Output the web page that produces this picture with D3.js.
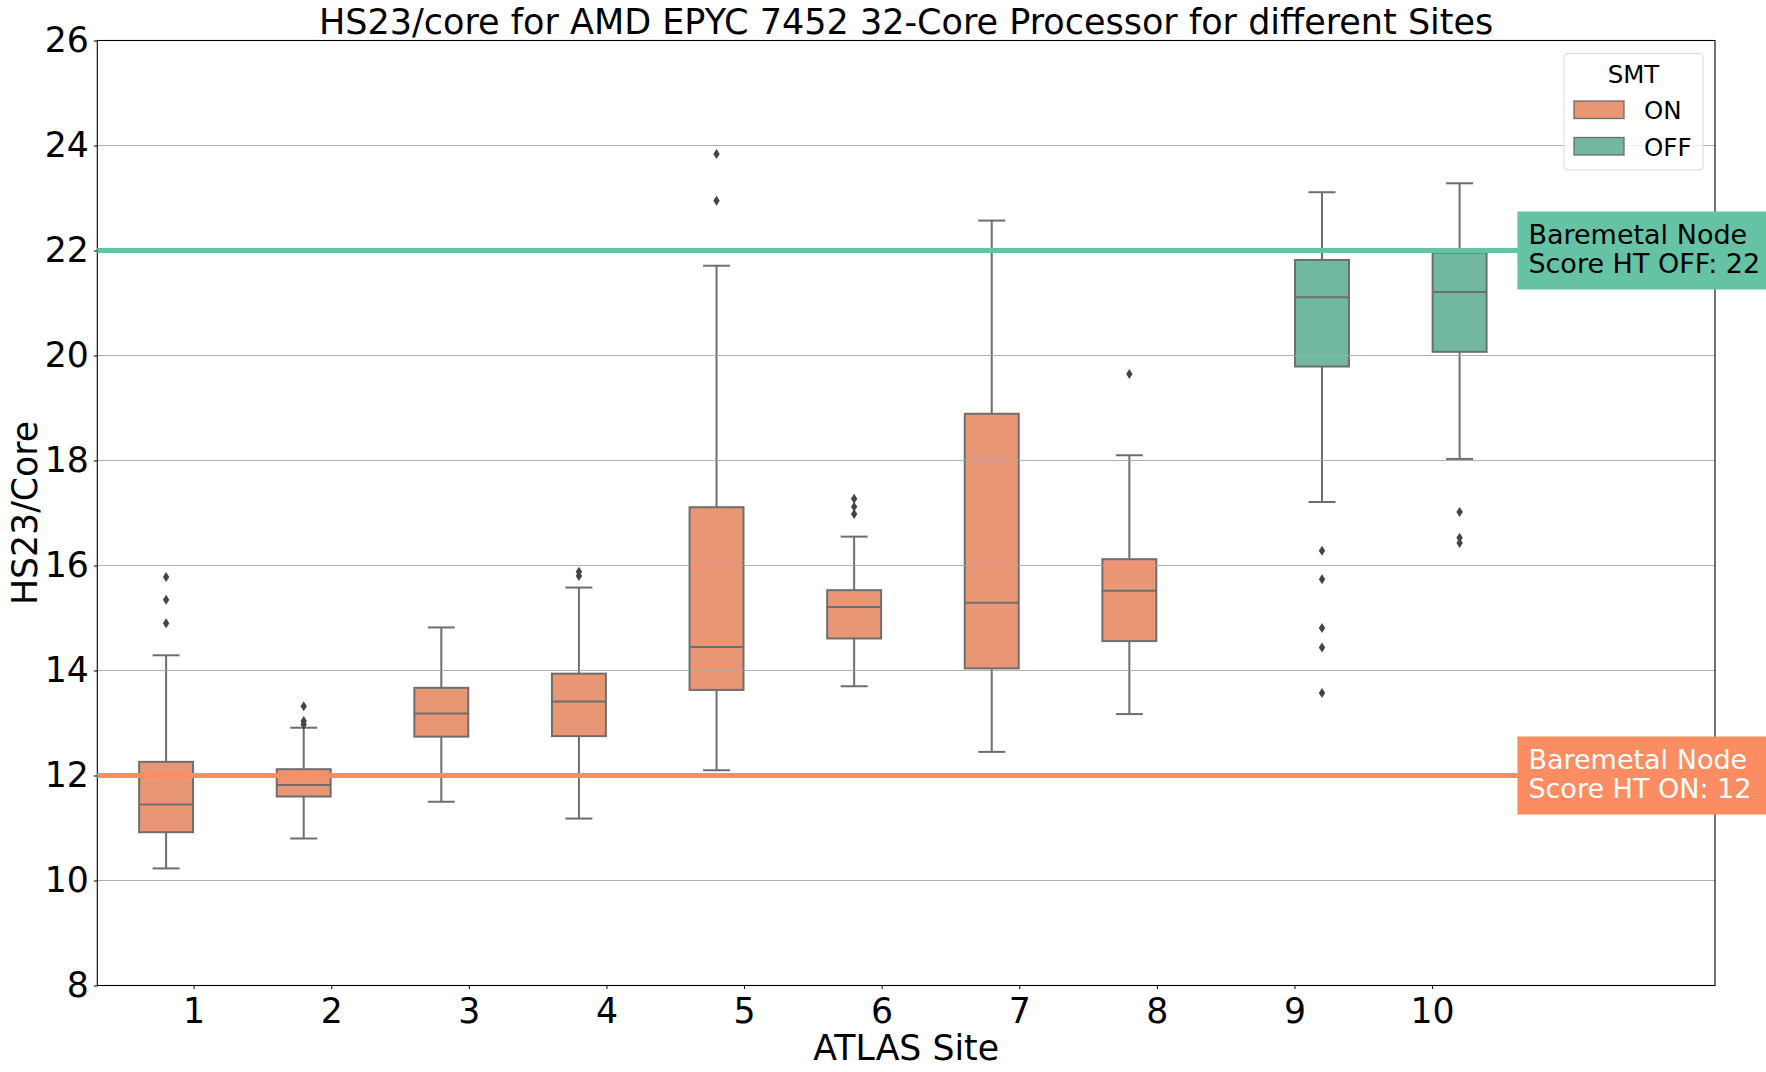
<!DOCTYPE html>
<html>
<head>
<meta charset="utf-8">
<script src="https://cdn.jsdelivr.net/npm/d3@7"></script>
<style>
  html, body { margin: 0; padding: 0; background: #fff; }
  svg { display: block; font-family: "DejaVu Sans", sans-serif; }
</style>
</head>
<body>
<svg id="chart" width="1766" height="1072"></svg>
<script>
// ---------------- data ----------------
const sites = ["1", "2", "3", "4", "5", "6", "7", "8", "9", "10"];
const smt = ["ON", "ON", "ON", "ON", "ON", "ON", "ON", "ON", "OFF", "OFF"];
const whiskerLow  = [10.23, 10.80, 11.50, 11.18, 12.10, 13.70, 12.45, 13.17, 17.21, 18.03];
const quartile1   = [10.92, 11.60, 12.74, 12.75, 13.63, 14.61, 14.04, 14.56, 19.79, 20.07];
const medians     = [11.45, 11.82, 13.18, 13.41, 14.45, 15.21, 15.29, 15.52, 21.11, 21.21];
const quartile3   = [12.26, 12.12, 13.67, 13.94, 17.11, 15.53, 18.89, 16.12, 21.82, 21.96];
const whiskerHigh = [14.29, 12.91, 14.82, 15.58, 21.71, 16.55, 22.57, 18.10, 23.11, 23.28];
const outliers = [
  [14.90, 15.35, 15.78],
  [12.97, 13.04, 13.32],
  [],
  [15.80, 15.88],
  [22.95, 23.84],
  [16.98, 17.12, 17.27],
  [],
  [19.65],
  [13.57, 14.44, 14.81, 15.74, 16.28],
  [16.43, 16.53, 17.02]
];
const yTicks = [8, 10, 12, 14, 16, 18, 20, 22, 24, 26];
const smtLevels = ["ON", "OFF"];
const baremetalScores = [12, 22];
const baremetalLabels = [["Baremetal Node", "Score HT ON: 12"], ["Baremetal Node", "Score HT OFF: 22"]];

(function () {
// ---------------- styles ----------------
const boxFill = { ON: "#e99675", OFF: "#72b7a1" };
const refColor = { ON: "#fc8d62", OFF: "#66c2a5" };
const refText = { ON: "#ffffff", OFF: "#000000" };
const lineGray = "#6e6e6e";
const bigFont = 34.7;

const svg = d3.select("#chart");
const pl = 97.3, pr = 1715, pt = 40.5, pb = 985.5;

const x = d3.scaleLinear().domain([-0.70, 11.056]).range([pl, pr]);
const y = d3.scaleLinear().domain([8, 26]).range([pb, pt]);
const unit = x(1) - x(0);
const hueOffset = { ON: -0.2, OFF: 0.2 };
const boxW = 0.392 * unit;

// gridlines
svg.append("g").selectAll("line").data(yTicks).join("line")
  .attr("x1", pl).attr("x2", pr)
  .attr("y1", d => y(d)).attr("y2", d => y(d))
  .attr("stroke", "#b0b0b0").attr("stroke-width", 1);

// boxes
const g = svg.append("g");
sites.forEach((s, i) => {
  const cx = x(i + hueOffset[smt[i]]);
  const bg = g.append("g");
  bg.append("line").attr("x1", cx).attr("x2", cx)
    .attr("y1", y(whiskerHigh[i])).attr("y2", y(quartile3[i]))
    .attr("stroke", lineGray).attr("stroke-width", 2);
  bg.append("line").attr("x1", cx).attr("x2", cx)
    .attr("y1", y(quartile1[i])).attr("y2", y(whiskerLow[i]))
    .attr("stroke", lineGray).attr("stroke-width", 2);
  [whiskerHigh[i], whiskerLow[i]].forEach(v => {
    bg.append("line").attr("x1", cx - boxW / 4).attr("x2", cx + boxW / 4)
      .attr("y1", y(v)).attr("y2", y(v))
      .attr("stroke", lineGray).attr("stroke-width", 2);
  });
  bg.append("rect")
    .attr("x", cx - boxW / 2).attr("width", boxW)
    .attr("y", y(quartile3[i])).attr("height", y(quartile1[i]) - y(quartile3[i]))
    .attr("fill", boxFill[smt[i]]).attr("stroke", lineGray).attr("stroke-width", 2);
  bg.append("line").attr("x1", cx - boxW / 2).attr("x2", cx + boxW / 2)
    .attr("y1", y(medians[i])).attr("y2", y(medians[i]))
    .attr("stroke", lineGray).attr("stroke-width", 2);
  bg.selectAll("path.flier").data(outliers[i]).join("path")
    .attr("class", "flier")
    .attr("d", v => `M${cx},${y(v) - 5}L${cx + 3.2},${y(v)}L${cx},${y(v) + 5}L${cx - 3.2},${y(v)}Z`)
    .attr("fill", "#454545");
});

// gridlines over boxes (faint)
svg.append("g").selectAll("line").data(yTicks).join("line")
  .attr("x1", pl).attr("x2", pr)
  .attr("y1", d => y(d)).attr("y2", d => y(d))
  .attr("stroke", "#b0b0b0").attr("stroke-width", 1).attr("opacity", 0.6);

// axes
const xAxis = d3.axisBottom(x).tickValues(d3.range(sites.length))
  .tickFormat(i => sites[i]).tickSize(3.5).tickPadding(5);
const yAxis = d3.axisLeft(y).tickValues(yTicks).tickSize(3.5).tickPadding(5);

const gx = svg.append("g").attr("transform", `translate(0,${pb})`).call(xAxis);
const gy = svg.append("g").attr("transform", `translate(${pl},0)`).call(yAxis);
[gx, gy].forEach(a => {
  a.select(".domain").remove();
  a.selectAll("text").attr("font-family", "DejaVu Sans").attr("font-size", bigFont).attr("fill", "#000");
  a.selectAll("line").attr("stroke", "#000").attr("stroke-width", 1);
});
gx.selectAll("text").attr("dy", null).attr("y", 37);
svg.append("rect").attr("x", pl).attr("y", pt)
  .attr("width", pr - pl).attr("height", pb - pt)
  .attr("fill", "none").attr("stroke", "#000").attr("stroke-width", 1.1);

// reference lines + annotations
smtLevels.forEach((lvl, k) => {
  const v = baremetalScores[k];
  svg.append("line").attr("x1", pl).attr("x2", pr)
    .attr("y1", y(v)).attr("y2", y(v))
    .attr("stroke", refColor[lvl]).attr("stroke-width", 5);
});
smtLevels.forEach((lvl, k) => {
  const v = baremetalScores[k];
  const bx = x(9.62), cy = y(v);
  svg.append("rect").attr("x", bx).attr("y", cy - 39).attr("width", 300).attr("height", 78)
    .attr("fill", refColor[lvl]);
  const t = svg.append("text").attr("x", bx + 11).attr("font-size", 27).attr("fill", refText[lvl]);
  baremetalLabels[k].forEach((ln, j) => {
    t.append("tspan").attr("x", bx + 11).attr("y", cy - 7 + j * 29.5).text(ln);
  });
});

// legend
const lg = svg.append("g");
lg.append("rect").attr("x", 1564).attr("y", 53.5).attr("width", 139).attr("height", 116.5)
  .attr("rx", 4).attr("fill", "#fff").attr("fill-opacity", 0.8)
  .attr("stroke", "#d9d9d9").attr("stroke-width", 1);
lg.append("text").attr("x", 1633.5).attr("y", 83).attr("text-anchor", "middle")
  .attr("font-size", 24.5).text("SMT");
smtLevels.forEach((lvl, k) => {
  const yy = 101 + k * 36.5;
  lg.append("rect").attr("x", 1574).attr("y", yy).attr("width", 50).attr("height", 17.5)
    .attr("fill", boxFill[lvl]).attr("stroke", lineGray).attr("stroke-width", 1.3);
  lg.append("text").attr("x", 1644).attr("y", yy + 18).attr("font-size", 24.5).text(lvl);
});

// titles
svg.append("text").attr("x", (pl + pr) / 2).attr("y", 34).attr("text-anchor", "middle")
  .attr("font-size", 35).text("HS23/core for AMD EPYC 7452 32-Core Processor for different Sites");
svg.append("text").attr("x", (pl + pr) / 2).attr("y", 1060).attr("text-anchor", "middle")
  .attr("font-size", bigFont).text("ATLAS Site");
svg.append("text").attr("transform", `translate(37,${(pt + pb) / 2}) rotate(-90)`)
  .attr("text-anchor", "middle").attr("font-size", bigFont).text("HS23/Core");
})();
</script>
</body>
</html>
